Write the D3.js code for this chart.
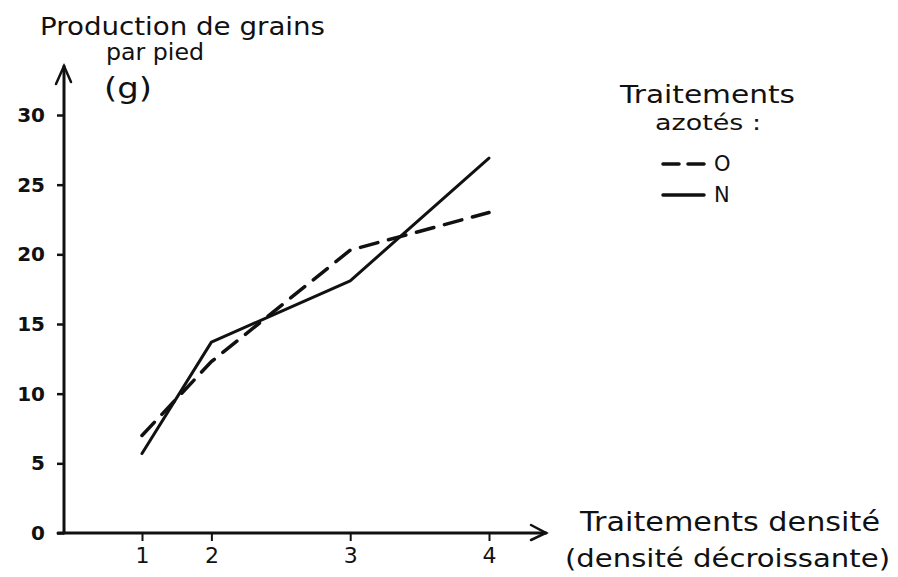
<!DOCTYPE html>
<html><head><meta charset="utf-8">
<script src="https://cdn.jsdelivr.net/npm/d3@7"></script>
<style>body{margin:0;background:#fff}svg{display:block}text{font-family:"DejaVu Sans",sans-serif;fill:#111}</style>
</head><body><svg id="c" width="898" height="577"></svg>
<script>
const densityLevels = [1, 2, 4, 6];
const densityLabels = ["1", "2", "3", "4"];
const seriesO = [7.0, 12.3, 20.3, 23.0];
const seriesN = [5.7, 13.7, 18.1, 26.9];
const yTicks = [0, 5, 10, 15, 20, 25, 30];
const legendNames = ["O", "N"];

const svg = d3.select("#c");
const ink = "#111";
const x = d3.scaleLinear().domain([0, 7]).range([72.6, 558.4]);
const y = d3.scaleLinear().domain([0, 30]).range([533, 115]);
const x0 = 64;

// axes lines
const ax = svg.append("g").attr("stroke", ink).attr("stroke-width", 3).attr("fill", "none").attr("stroke-linecap", "round");
ax.append("line").attr("x1", x0).attr("x2", x0).attr("y1", y(0)).attr("y2", 66);
ax.append("path").attr("d", `M${x0-8},${84}L${x0},${66}L${x0+7},${82}`).attr("stroke-width", 2.5);
ax.append("line").attr("x1", x0 - 6).attr("x2", 546).attr("y1", y(0)).attr("y2", y(0));
ax.append("path").attr("d", `M531,${y(0)-8}L546,${y(0)}L531,${y(0)+7}`).attr("stroke-width", 2.5);

// y axis ticks
const yAxis = d3.axisLeft(y).tickValues(yTicks).tickSize(7).tickPadding(12).tickFormat(d3.format("d"));
const gy = svg.append("g").attr("transform", `translate(${x0},0)`).call(yAxis);
gy.select(".domain").remove();
gy.selectAll(".tick line").attr("stroke", ink).attr("stroke-width", 2.5);
gy.selectAll(".tick text").attr("font-size", 20).attr("font-weight", "bold").attr("fill", ink).attr("font-family", "DejaVu Sans");

// x axis ticks
const xAxis = d3.axisBottom(x).tickValues(densityLevels).tickSize(8).tickPadding(6)
  .tickFormat((d, i) => densityLabels[i]);
const gx = svg.append("g").attr("transform", `translate(0,${y(0)})`).call(xAxis);
gx.select(".domain").remove();
gx.selectAll(".tick line").attr("stroke", ink).attr("stroke-width", 2);
gx.selectAll(".tick text").attr("font-size", 22).attr("fill", ink).attr("font-family", "DejaVu Sans");

// lines
const line = d3.line().x((d, i) => x(densityLevels[i])).y(d => y(d));
svg.append("path").datum(seriesO).attr("d", line).attr("fill", "none").attr("stroke", ink)
  .attr("stroke-width", 3.5).attr("stroke-dasharray", "18,11").attr("stroke-linecap", "round");
svg.append("path").datum(seriesN).attr("d", line).attr("fill", "none").attr("stroke", ink)
  .attr("stroke-width", 3).attr("stroke-linecap", "round").attr("stroke-linejoin", "round");

// titles
function txt(s, tx, ty, size, len, anchor) {
  const t = svg.append("text").attr("x", tx).attr("y", ty).attr("font-size", size).text(s);
  if (len) t.attr("textLength", len).attr("lengthAdjust", "spacingAndGlyphs");
  if (anchor) t.attr("text-anchor", anchor);
  return t;
}
txt("Production de grains", 40, 35, 24, 285);
txt("par pied", 106, 60, 23, 98);
txt("(g)", 104, 98, 28, 48);
txt("Traitements densité", 580, 531, 26, 300);
txt("(densité décroissante)", 565, 567, 25, 325);
txt("Traitements", 620, 103, 24, 175);
txt("azotés :", 655, 130, 22, 106);

// legend
const lg = svg.append("g");
legendNames.forEach((n, i) => {
  const ly = 164 + i * 31;
  lg.append("line").attr("x1", 663).attr("x2", 704).attr("y1", ly).attr("y2", ly)
    .attr("stroke", ink).attr("stroke-width", 3.5).attr("stroke-linecap", "round")
    .attr("stroke-dasharray", i === 0 ? "16,9" : null);
  lg.append("text").attr("x", 714).attr("y", ly + 7).attr("font-size", 21).text(n);
});
</script></body></html>
